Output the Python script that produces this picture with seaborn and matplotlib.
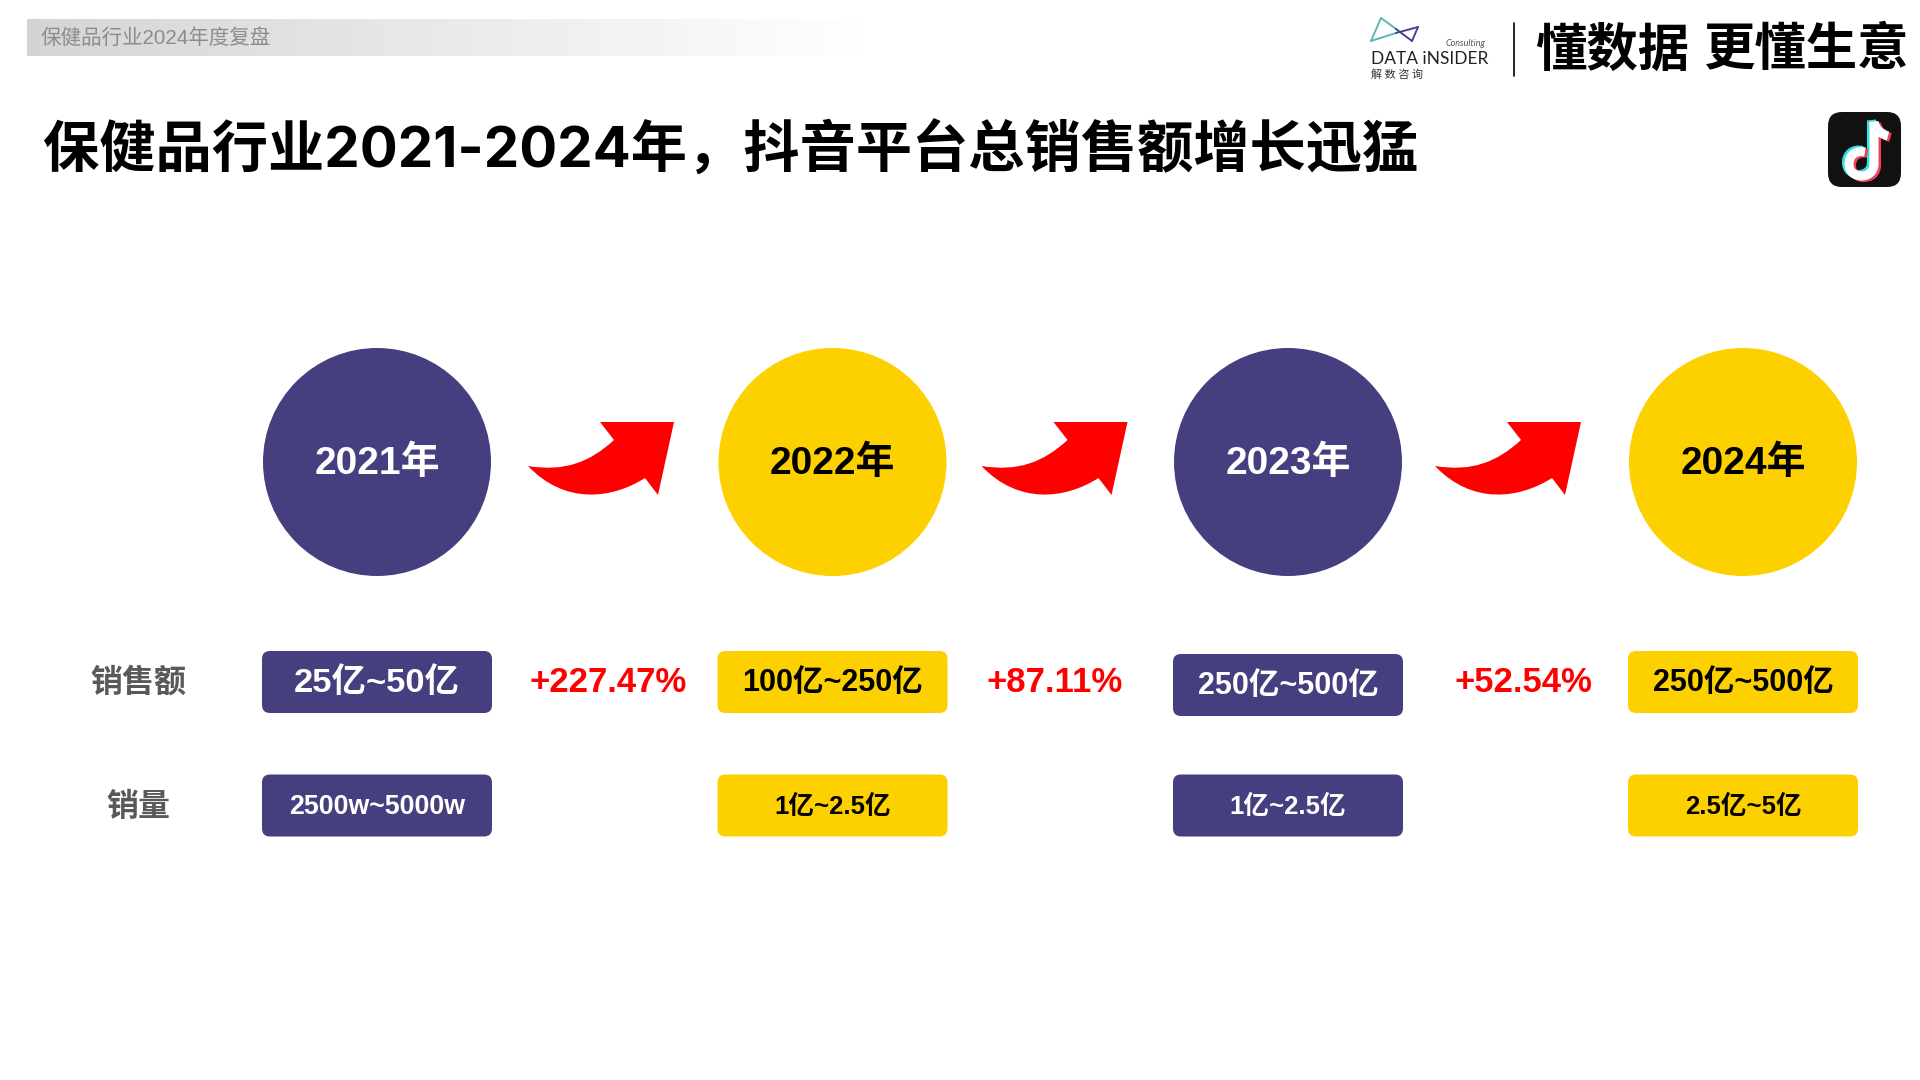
import numpy as np
import pandas as pd
import matplotlib.pyplot as plt
import seaborn as sns
from matplotlib.patches import FancyBboxPatch, PathPatch
from matplotlib.path import Path

years = ["2021年", "2022年", "2023年", "2024年"]
sales_ranges = ["25亿~50亿", "100亿~250亿", "250亿~500亿", "250亿~500亿"]
volume_ranges = ["2500w~5000w", "1亿~2.5亿", "1亿~2.5亿", "2.5亿~5亿"]
growth_labels = ["+227.47%", "+87.11%", "+52.54%"]

INDIGO = "#453f80"
YELLOW = "#fdd000"
RED = "#ff0000"

sns.set_theme(style="white")
FONT = ["Liberation Sans", "Noto Sans CJK SC", "DejaVu Sans"]
CJK = ["Noto Sans CJK SC", "DejaVu Sans"]
plt.rcParams["font.family"] = FONT

fig = plt.figure(figsize=(19.2, 10.8), dpi=100)
ax = fig.add_axes([0, 0, 1, 1])

# layout in pixels of the slide
col_x = [377, 832.5, 1288, 1743]
colors = [INDIGO, YELLOW, INDIGO, YELLOW]
text_colors = ["white", "black", "white", "black"]

# year circles
df_years = pd.DataFrame({"year": years, "x": col_x, "y": [462] * 4})
sns.scatterplot(
    data=df_years, x="x", y="y", hue="year", palette=colors,
    s=(228 * 0.72) ** 2, linewidth=0, legend=False, ax=ax, zorder=2,
)
for x, label, tc in zip(col_x, years, text_colors):
    ax.text(x, 464, label, color=tc, fontsize=28, fontweight="bold", ha="center", va="center", zorder=3)


def draw_box(cx, cy, text, color, tc, size):
    w, h = 230, 62
    ax.add_patch(FancyBboxPatch(
        (cx - w / 2 + 8, cy - h / 2 + 8), w - 16, h - 16,
        boxstyle="round,pad=8,rounding_size=8", fc=color, ec="none", zorder=2,
    ))
    ax.text(cx, cy + 1, text, color=tc, fontsize=size, fontweight="bold", ha="center", va="center", zorder=3)


sales_y = [682, 682, 685, 682]
sales_sizes = [24.8, 22, 22, 22]
volume_sizes = [19.3, 18.5, 18.5, 18.5]
for i, x in enumerate(col_x):
    draw_box(x, sales_y[i], sales_ranges[i], colors[i], text_colors[i], sales_sizes[i])
    draw_box(x, 805.5, volume_ranges[i], colors[i], text_colors[i], volume_sizes[i])

# row labels
ax.text(138, 683, "销售额", color="#595959", fontsize=23, fontweight="bold", ha="center", va="center")
ax.text(138, 808, "销量", color="#595959", fontsize=23, fontweight="bold", ha="center", va="center")

# growth labels
for x, label in zip([608, 1055, 1523], growth_labels):
    ax.text(x, 683, label, color=RED, fontsize=25, fontweight="bold", ha="center", va="center")

# red curved arrows
for dx in [0, 453.5, 907]:
    verts = [
        (528, 466), (565, 472), (590, 462), (614, 440),
        (600, 422), (674, 422), (658, 495), (645, 478),
        (612, 499), (565, 505), (528, 466),
    ]
    codes = [
        Path.MOVETO, Path.CURVE4, Path.CURVE4, Path.CURVE4,
        Path.LINETO, Path.LINETO, Path.LINETO, Path.LINETO,
        Path.CURVE4, Path.CURVE4, Path.CURVE4,
    ]
    arrow = Path([(vx + dx, vy) for vx, vy in verts], codes)
    ax.add_patch(PathPatch(arrow, fc=RED, ec="none", zorder=2))

# header strip, fades out to the right
strip = np.linspace(0.83, 1, 256).reshape(1, -1)
ax.imshow(strip, extent=(27, 880, 56, 19), cmap="gray", vmin=0, vmax=1, aspect="auto", zorder=1)
ax.text(41, 38, "保健品行业2024年度复盘", color="#8c8c8c", fontsize=14.8, ha="left", va="center", zorder=2)

# title, Inter has the wider digits of the original
ax.text(43, 150, "保健品行业2021-2024年，抖音平台总销售额增长迅猛", color="black",
        fontsize=40.5, fontweight="bold", ha="left", va="center",
        family=["Inter", "Noto Sans CJK SC", "DejaVu Sans"])

# slogan
ax.text(1612, 50, "懂数据", color="black", fontsize=37, fontweight="bold", ha="center", va="center", family=CJK)
ax.text(1807, 50, "更懂生意", color="black", fontsize=37, fontweight="bold", ha="center", va="center", family=CJK)
ax.plot([1514, 1514], [23, 76], color="black", lw=1.2)

# logo
ax.plot([1381, 1371], [18, 41], color="#5cb8b2", lw=1.4)
ax.plot([1381, 1396], [18, 29], color="#5cb8b2", lw=1.4)
ax.plot([1371, 1396], [41, 33], color="#5cb8b2", lw=1.4)
ax.plot([1396, 1412], [29, 41], color="#4b3f96", lw=1.4)
ax.plot([1396, 1418], [33, 27], color="#4b3f96", lw=1.4)
ax.plot([1418, 1412], [27, 41], color="#4b3f96", lw=1.4)
ax.text(1371, 59, "DATA iNSIDER", color="#222222", fontsize=12.5, ha="left", va="center", family="Lato")
ax.text(1485, 44, "Consulting", color="#555555", fontsize=6.5, ha="right", va="center", family="Lato", style="italic")
ax.text(1371, 75, "解 数 咨 询", color="#333333", fontsize=8, ha="left", va="center", family=CJK)

# app icon
ax.add_patch(FancyBboxPatch(
    (1840, 124), 49, 51, boxstyle="round,pad=12,rounding_size=14", fc="#111111", ec="none", zorder=2,
))
note_verts = [
    (1888, 136), (1880, 134), (1875, 128), (1874, 122),
    (1874, 164),
    (1874, 180), (1849, 180), (1849, 164),
    (1849, 155), (1856, 150), (1865, 152),
]
note_codes = [
    Path.MOVETO, Path.CURVE4, Path.CURVE4, Path.CURVE4,
    Path.LINETO,
    Path.CURVE4, Path.CURVE4, Path.CURVE4,
    Path.CURVE4, Path.CURVE4, Path.CURVE4,
]
for off, col in [(-2.5, "#33e0e8"), (2.5, "#f0405a"), (0, "white")]:
    note = Path([(vx + off, vy + off * 0.6) for vx, vy in note_verts], note_codes)
    ax.add_patch(PathPatch(note, fc="none", ec=col, lw=6.5, capstyle="butt", zorder=3))

ax.set_xlim(0, 1920)
ax.set_ylim(1080, 0)
ax.axis("off")

plt.savefig("out.png", dpi=100)
plt.close()
